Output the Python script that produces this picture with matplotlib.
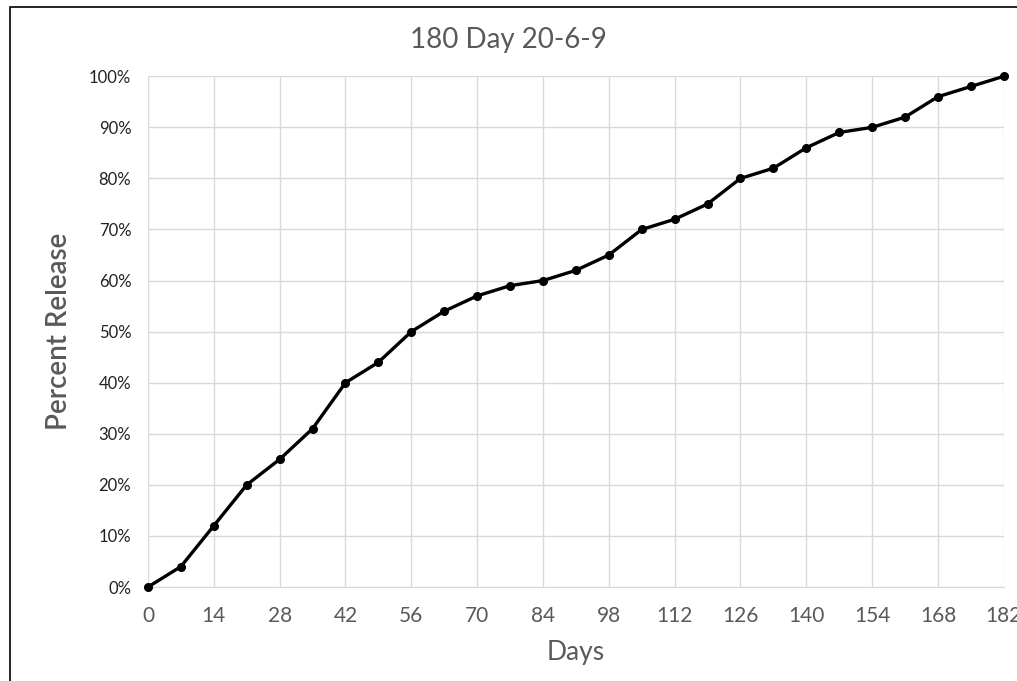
import matplotlib.pyplot as plt
from matplotlib.patches import Rectangle
from matplotlib.ticker import MultipleLocator, FuncFormatter

days = [0, 7, 14, 21, 28, 35, 42, 49, 56, 63, 70, 77, 84, 91, 98, 105, 112,
        119, 126, 133, 140, 147, 154, 161, 168, 175, 182]
release = [0, 4, 12, 20, 25, 31, 40, 44, 50, 54, 57, 59, 60, 62, 65, 70, 72,
           75, 80, 82, 86, 89, 90, 92, 96, 98, 100]

plt.rcParams["font.family"] = ["Lato", "DejaVu Sans"]
grey = "#595959"
grid_col = "#d9d9d9"

fig = plt.figure(figsize=(10.17, 6.81), dpi=100)
ax = fig.add_axes([0.1455, 0.138, 0.987 - 0.1455, 0.888 - 0.138])

ax.plot(days, release, color="black", linewidth=2.4, marker="o",
        markersize=5.5, clip_on=False, zorder=3)

ax.set_xlim(0, 182)
ax.set_ylim(0, 100)
ax.xaxis.set_major_locator(MultipleLocator(14))
ax.yaxis.set_major_locator(MultipleLocator(10))
ax.yaxis.set_major_formatter(FuncFormatter(lambda v, p: f"{v:.0f}%"))

ax.grid(True, color=grid_col, linewidth=1)
ax.set_axisbelow(True)
for s in ["top", "right", "left"]:
    ax.spines[s].set_visible(False)
ax.spines["bottom"].set_color(grid_col)
ax.tick_params(length=0)
ax.tick_params(axis="x", labelsize=15, labelcolor=grey, pad=14)
ax.tick_params(axis="y", labelsize=12, labelcolor="#222222", pad=12)

ax.set_xlabel("Days", fontsize=19, color=grey, labelpad=10)
ax.set_ylabel("Percent Release", fontsize=20, color=grey, labelpad=12,
              fontweight="semibold")
fig.text(0.5, 1 - 40 / 681, "180 Day 20-6-9", fontsize=20, color=grey,
         ha="center", va="center")

fig.patches.append(Rectangle((10 / 1017, -0.1), 1.2, 1 - 7 / 681 + 0.1,
                             transform=fig.transFigure, fill=False,
                             edgecolor="black", linewidth=1.2))

fig.savefig("out.png", dpi=100)
